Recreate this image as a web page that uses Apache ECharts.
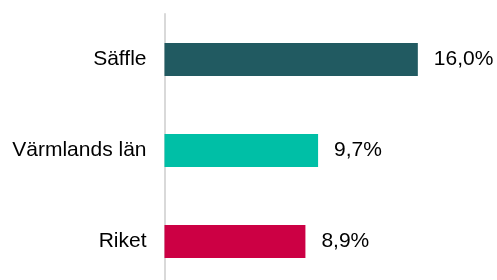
<!DOCTYPE html>
<html>
<head>
<meta charset="utf-8">
<script src="https://cdn.jsdelivr.net/npm/echarts@6/dist/echarts.min.js"></script>
<style>
  html, body { margin: 0; padding: 0; background: #fff; overflow: hidden; }
  /* axeln går ut under bildens nederkant, så diagrammet görs lite högre än fönstret */
  #chart { width: 497px; height: 287px; }
</style>
</head>
<body>
<div id="chart"></div>
<script>
// kategorier uppifrån och ned
const categories = ['Säffle', 'Värmlands län', 'Riket']
const values = [16.0, 9.7, 8.9]
const colors = ['#215a61', '#00bfa6', '#cc0044']

const chart = echarts.init(document.getElementById('chart'))

chart.setOption({
  animation: false,
  grid: { left: 164.5, top: 14, width: 285, bottom: 0 },
  xAxis: {
    type: 'value',
    min: 0,
    max: 18,
    show: false
  },
  yAxis: {
    type: 'category',
    inverse: true,
    data: categories,
    axisLine: { show: true, lineStyle: { color: '#d9d9d9', width: 2 } },
    axisTick: { show: false },
    axisLabel: {
      margin: 18,
      color: '#000',
      fontSize: 21,
      fontFamily: 'Liberation Sans, Arial, sans-serif'
    }
  },
  series: [{
    type: 'bar',
    barWidth: 33,
    data: values.map((v, i) => ({ value: v, itemStyle: { color: colors[i] } })),
    label: {
      show: true,
      position: 'right',
      distance: 16,
      color: '#000',
      fontSize: 21,
      fontFamily: 'Liberation Sans, Arial, sans-serif',
      formatter: p => p.value.toFixed(1).replace('.', ',') + '%'
    }
  }]
})

window.onresize = () => {
  chart.resize()
}
</script>
</body>
</html>
